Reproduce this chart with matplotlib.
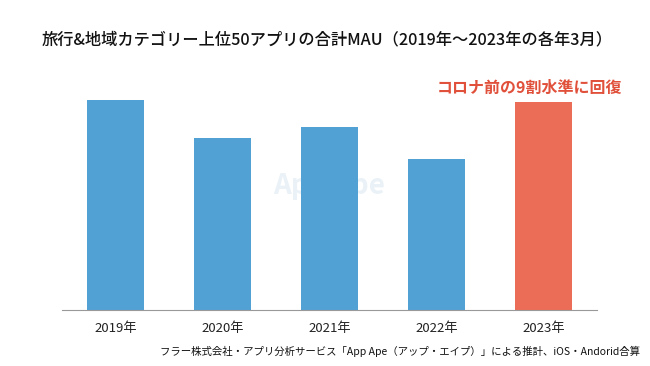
import matplotlib
matplotlib.use('Agg')
import matplotlib.pyplot as plt

plt.rcParams['font.family'] = ['Noto Sans CJK JP', 'DejaVu Sans']

years = ['2019年', '2020年', '2021年', '2022年', '2023年']
mau = [210, 171.5, 182.5, 150.5, 207.5]
colors = ['#52a1d4', '#52a1d4', '#52a1d4', '#52a1d4', '#ec6d57']

title = '旅行&地域カテゴリー上位50アプリの合計MAU（2019年〜2023年の各年3月）'
note = 'コロナ前の9割水準に回復'
source = 'フラー株式会社・アプリ分析サービス「App Ape（アップ・エイプ）」による推計、iOS・Andorid合算'

fig = plt.figure(figsize=(6.5, 3.66), dpi=100)
ax = fig.add_axes([62 / 650, (366 - 309.5) / 366, 535 / 650, 249.5 / 366])

x = range(len(years))
ax.bar(x, mau, width=0.53, color=colors, zorder=2)
ax.set_xlim(-0.5, 4.5)
ax.set_ylim(0, 249.5)
ax.set_xticks(list(x))
ax.set_xticklabels(years, fontsize=9.5, color='#222222')
ax.tick_params(axis='x', length=0, pad=9)
ax.set_yticks([])
for s in ['top', 'right', 'left']:
    ax.spines[s].set_visible(False)
ax.spines['bottom'].set_color('#999999')
ax.spines['bottom'].set_linewidth(0.8)

ax.text(3.87, mau[4] + 14, note, ha='center', va='center', fontsize=11.5,
        fontweight='bold', color='#e0503a')

# faint watermark behind bars
ax.text(2.0, 124, 'App Ape', ha='center', va='center', fontsize=20,
        fontweight='bold', color='#eaf2f8', zorder=1)

fig.text(327 / 650, 1 - 40 / 366, title, ha='center', va='center',
         fontsize=11.7, fontweight='medium', color='#111111')
fig.text(640 / 650, 1 - 351 / 366, source, ha='right', va='center',
         fontsize=7.5, color='#111111')

fig.savefig('out.png', dpi=100, facecolor='white')
